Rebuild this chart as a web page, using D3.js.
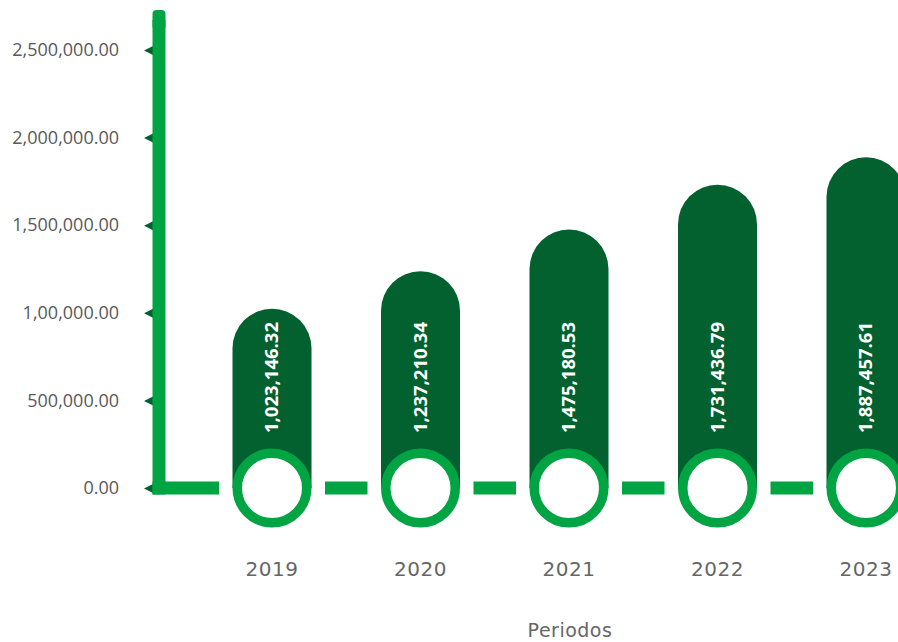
<!DOCTYPE html>
<html>
<head>
<meta charset="utf-8">
<script src="https://cdn.jsdelivr.net/npm/d3@7"></script>
<style>
  body { margin: 0; background: #fff; }
</style>
</head>
<body>
<div id="chart"></div>
<script>
// data
var years = ["2019", "2020", "2021", "2022", "2023"];
var values = [1023146.32, 1237210.34, 1475180.53, 1731436.79, 1887457.61];
var valueLabels = ["1,023,146.32", "1,237,210.34", "1,475,180.53", "1,731,436.79", "1,887,457.61"];
var tickValues = [0, 500000, 1000000, 1500000, 2000000, 2500000];
var tickLabels = ["0.00", "500,000.00", "1,00,000.00", "1,500,000.00", "2,000,000.00", "2,500,000.00"];

var width = 898, height = 642;
var light = "#00a443", dark = "#03612f";

var svg = d3.select("#chart")
  .append("svg")
    .attr("width", width)
    .attr("height", height);

var x = d3.scalePoint().domain(years).range([272, 866]);
var y = d3.scaleLinear().domain([0, 2500000]).range([488, 50]);

var axisX = 159;
var R = 39.5; // bar half width / circle outer radius
var base = y(0);

// vertical axis bar, rounded top
svg.append("rect")
  .attr("x", axisX - 6.5).attr("y", 10)
  .attr("width", 13).attr("height", 20)
  .attr("rx", 4)
  .attr("fill", light);

// axis ticks + labels
var axis = svg.append("g")
  .attr("transform", "translate(155,0)")
  .call(d3.axisLeft(y).tickValues(tickValues).tickFormat(function(d, i) { return tickLabels[i]; }).tickSize(0));
axis.select(".domain").remove();
axis.selectAll(".tick text")
  .attr("x", -36)
  .attr("fill", "#595959")
  .attr("font-family", "Open Sans, sans-serif")
  .attr("font-size", "18px");
axis.selectAll(".tick").append("path")
  .attr("d", "M0,-5.5L-11,0L0,5.5Z")
  .attr("fill", dark);

svg.append("line")
  .attr("x1", axisX).attr("x2", axisX)
  .attr("y1", 20).attr("y2", base + 6.5)
  .attr("stroke", light)
  .attr("stroke-width", 13);

// baseline dashes between circles
var gap = 13.5;
var segs = [[axisX - 6.5, x(years[0]) - R - gap]];
for (var i = 0; i < years.length - 1; i++) {
  segs.push([x(years[i]) + R + gap, x(years[i + 1]) - R - gap]);
}
svg.selectAll(".dash")
  .data(segs)
  .enter()
  .append("line")
    .attr("class", "dash")
    .attr("x1", function(d) { return d[0]; })
    .attr("x2", function(d) { return d[1]; })
    .attr("y1", base).attr("y2", base)
    .attr("stroke", light)
    .attr("stroke-width", 13);

// bars with round caps
svg.selectAll(".bar")
  .data(values)
  .enter()
  .append("path")
    .attr("class", "bar")
    .attr("fill", dark)
    .attr("d", function(d, i) {
      var cx = x(years[i]), top = y(d);
      return "M" + (cx - R) + "," + base +
        "V" + (top + R) +
        "A" + R + "," + R + " 0 0 1 " + (cx + R) + "," + (top + R) +
        "V" + base + "Z";
    });

// rings
svg.selectAll(".ring")
  .data(years)
  .enter()
  .append("circle")
    .attr("class", "ring")
    .attr("cx", function(d) { return x(d); })
    .attr("cy", base)
    .attr("r", R - 4.75)
    .attr("fill", "#fff")
    .attr("stroke", light)
    .attr("stroke-width", 9.5);

// value labels
svg.selectAll(".val")
  .data(valueLabels)
  .enter()
  .append("text")
    .attr("class", "val")
    .attr("transform", function(d, i) { return "translate(" + x(years[i]) + ",433) rotate(-90)"; })
    .attr("dy", "0.35em")
    .attr("fill", "#fff")
    .attr("font-family", "Open Sans, sans-serif")
    .attr("font-weight", "bold")
    .attr("font-size", "18.5px")
    .text(function(d) { return d; });

// year labels
svg.selectAll(".year")
  .data(years)
  .enter()
  .append("text")
    .attr("class", "year")
    .attr("x", function(d) { return x(d); })
    .attr("y", 576)
    .attr("text-anchor", "middle")
    .attr("fill", "#666")
    .attr("font-family", "DejaVu Sans, sans-serif")
    .attr("font-size", "20px")
    .attr("letter-spacing", "0.5px")
    .text(function(d) { return d; });

svg.append("text")
  .attr("x", 570)
  .attr("y", 637)
  .attr("text-anchor", "middle")
  .attr("fill", "#666")
  .attr("font-family", "DejaVu Sans, sans-serif")
  .attr("font-size", "19px")
  .attr("letter-spacing", "0.5px")
  .text("Periodos");
</script>
</body>
</html>
